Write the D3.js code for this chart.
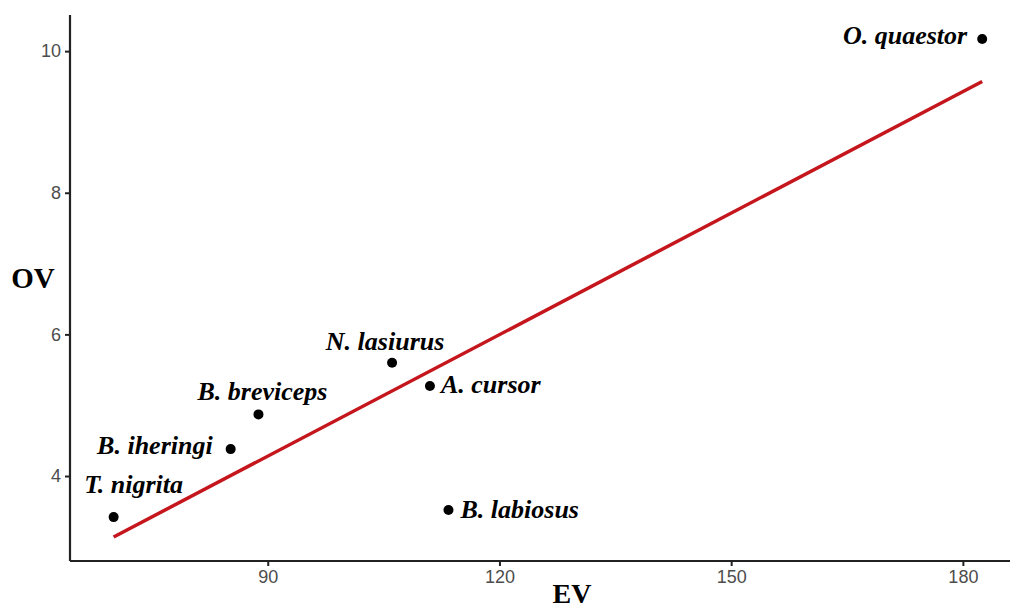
<!DOCTYPE html>
<html><head><meta charset="utf-8">
<script src="https://cdn.jsdelivr.net/npm/d3@7"></script>
<style>body{margin:0;background:#fff}</style>
</head><body>
<svg id="c" width="1012" height="611"></svg>
<script>
const species = ["O. quaestor","N. lasiurus","A. cursor","B. breviceps","B. iheringi","T. nigrita","B. labiosus"];
const ev = [182.5,106.1,111.0,88.8,85.2,70.05,113.4];
const ov = [10.17,5.60,5.27,4.87,4.38,3.42,3.52];
const xTicks = [90,120,150,180];
const yTicks = [4,6,8,10];
// label placement: anchor & offsets (px)
const labelPos = [
  {a:"end", dx:-15, dy:5},
  {a:"middle", dx:-7, dy:-13},
  {a:"start", dx:11, dy:7},
  {a:"middle", dx:4, dy:-14},
  {a:"end", dx:-18, dy:5},
  {a:"middle", dx:20, dy:-24},
  {a:"start", dx:12, dy:8}
];

const svg = d3.select("#c");
const L=70, R=1010, T=15, B=561;
const x = d3.scaleLinear().domain([64.4,186.1]).range([L,R]);
const y = d3.scaleLinear().domain([2.8,10.51]).range([B,T]);

// regression
const mx = d3.mean(ev), my = d3.mean(ov);
let sxy=0,sxx=0;
ev.forEach((v,i)=>{sxy+=(v-mx)*(ov[i]-my);sxx+=(v-mx)*(v-mx);});
const slope=sxy/sxx, icpt=my-slope*mx;
const x0=d3.min(ev), x1=d3.max(ev);
svg.append("line").attr("x1",x(x0)).attr("y1",y(icpt+slope*x0))
  .attr("x2",x(x1)).attr("y2",y(icpt+slope*x1))
  .attr("stroke","#c4161c").attr("stroke-width",3.5);

// points
const data = species.map((s,i)=>({s, ev:ev[i], ov:ov[i], p:labelPos[i]}));
svg.selectAll("circle.pt").data(data).enter().append("circle")
  .attr("cx",d=>x(d.ev)).attr("cy",d=>y(d.ov)).attr("r",5).attr("fill","#000");
svg.selectAll("text.lab").data(data).enter().append("text")
  .attr("x",d=>x(d.ev)+d.p.dx).attr("y",d=>y(d.ov)+d.p.dy)
  .attr("text-anchor",d=>d.p.a)
  .style("font-family","'Liberation Serif','Times New Roman',serif")
  .style("font-weight","bold").style("font-style","italic").style("font-size","26px")
  .text(d=>d.s);

// axes
const xa = svg.append("g").attr("transform",`translate(0,${B})`)
  .call(d3.axisBottom(x).tickValues(xTicks).tickSize(5).tickPadding(4));
const ya = svg.append("g").attr("transform",`translate(${L},0)`)
  .call(d3.axisLeft(y).tickValues(yTicks).tickSize(5).tickPadding(4));
[xa,ya].forEach(g=>{
  g.select(".domain").attr("stroke","#222").attr("stroke-width",2.2);
  g.selectAll(".tick line").attr("stroke","#222").attr("stroke-width",2);
  g.selectAll(".tick text").attr("fill","#4d4d4d")
    .style("font-family","'Liberation Sans',Arial,sans-serif").style("font-size","18px");
});
xa.select(".domain").attr("d",`M${L},0H${R}`);
ya.select(".domain").attr("d",`M0,${B}V${T}`);

svg.append("text").attr("x",572).attr("y",603).attr("text-anchor","middle")
  .style("font-family","'Liberation Serif',serif").style("font-weight","bold").style("font-size","28px").text("EV");
svg.append("text").attr("x",33).attr("y",288).attr("text-anchor","middle")
  .style("font-family","'Liberation Serif',serif").style("font-weight","bold").style("font-size","29px").text("OV");
</script>
</body></html>
